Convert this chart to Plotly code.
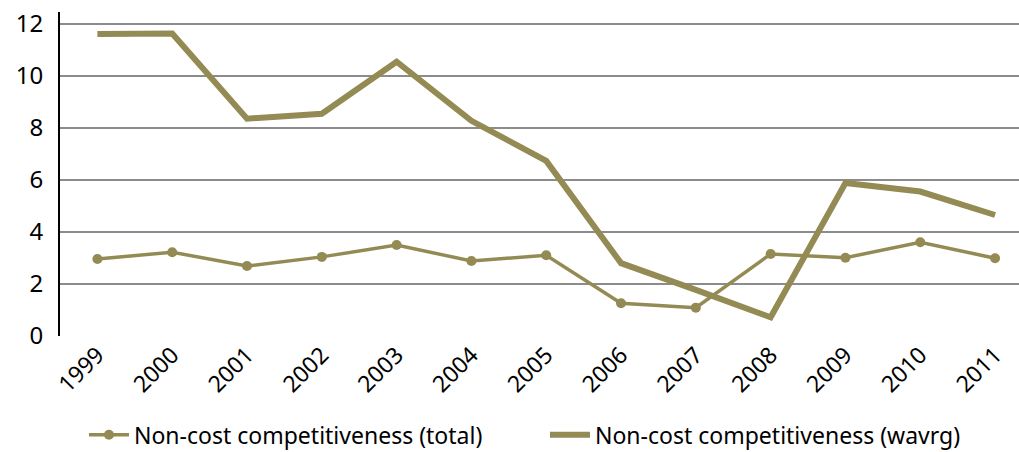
import plotly.graph_objects as go

years = ["1999", "2000", "2001", "2002", "2003", "2004", "2005",
         "2006", "2007", "2008", "2009", "2010", "2011"]
total = [2.96, 3.22, 2.69, 3.04, 3.5, 2.88, 3.1, 1.26, 1.09, 3.15, 3.01, 3.6, 2.99]
wavrg = [11.6, 11.62, 8.35, 8.54, 10.54, 8.27, 6.73, 2.8, 1.77, 0.72, 5.88, 5.55, 4.65]

olive = "#948A54"
font_family = "Noto Sans, Open Sans, sans-serif"

fig = go.Figure()
fig.add_trace(go.Scatter(
    x=years, y=total, mode="lines+markers",
    name="Non-cost competitiveness (total)",
    line=dict(color=olive, width=3.5),
    marker=dict(color=olive, size=10),
))
fig.add_trace(go.Scatter(
    x=years, y=wavrg, mode="lines",
    name="Non-cost competitiveness (wavrg)",
    line=dict(color=olive, width=6),
))

fig.update_layout(
    width=1019, height=452,
    margin=dict(l=60, r=0, t=12, b=116, autoexpand=False),
    plot_bgcolor="white", paper_bgcolor="white",
    font=dict(family=font_family, size=23, color="black"),
    showlegend=True,
    legend=dict(
        orientation="h", x=0.025, xanchor="left", y=-0.305, yanchor="middle",
        font=dict(size=23), entrywidth=406, entrywidthmode="pixels",
        itemwidth=40, tracegroupgap=0, borderwidth=0,
    ),
    xaxis=dict(
        type="category", range=[-0.5, 12.32], automargin=False,
        tickangle=-45, showgrid=False, showline=False, ticks="",
        tickfont=dict(size=23),
    ),
    yaxis=dict(
        range=[0, 12.45], tickvals=[0, 2, 4, 6, 8, 10, 12], automargin=False,
        showgrid=True, gridcolor="#8C8C8C", gridwidth=1.5,
        showline=True, linecolor="black", linewidth=2,
        zeroline=False, ticks="", tickfont=dict(size=24),
        ticklabelstandoff=10,
    ),
)

fig.write_html("out.html")
